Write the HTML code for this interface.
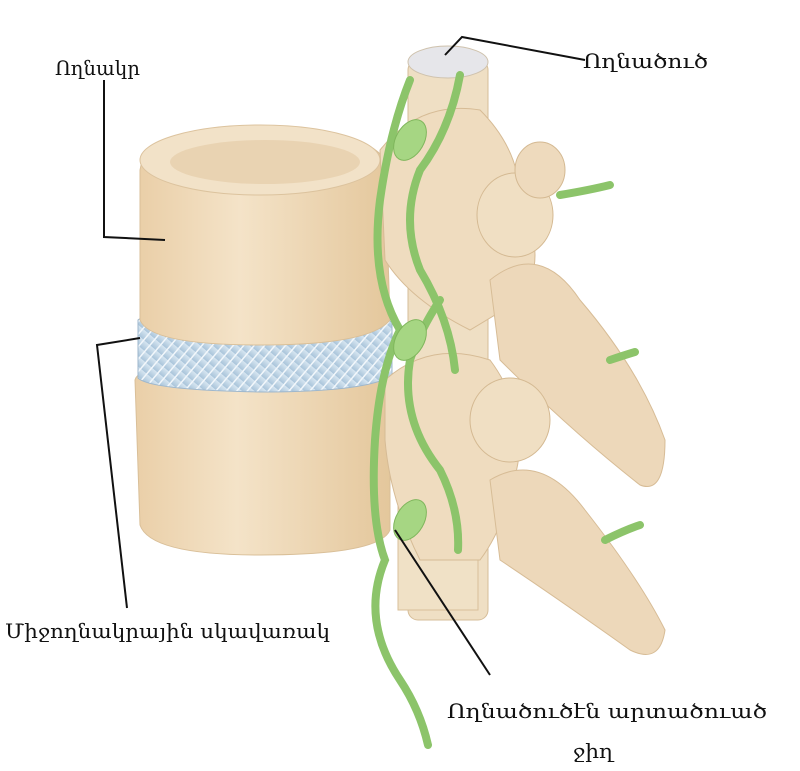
<!DOCTYPE html>
<html><head><meta charset="utf-8"><style>
html,body{margin:0;padding:0;background:#fff;}
svg{display:block;}
text{font-family:"DejaVu Serif","Liberation Serif",serif;font-size:20px;fill:#111;}
</style></head><body>
<svg width="800" height="771" viewBox="0 0 800 771" xmlns="http://www.w3.org/2000/svg">
<defs>
<linearGradient id="bone" x1="0" y1="0" x2="1" y2="0">
<stop offset="0" stop-color="#eacfa8"/><stop offset="0.4" stop-color="#f4e3c8"/><stop offset="1" stop-color="#e4c79c"/>
</linearGradient>
<linearGradient id="disc" x1="0" y1="0" x2="0" y2="1">
<stop offset="0" stop-color="#d7e6f1"/><stop offset="1" stop-color="#a9c4da"/>
</linearGradient>
<pattern id="hatch" width="8" height="8" patternUnits="userSpaceOnUse" patternTransform="rotate(40)">
<rect width="8" height="8" fill="url(#disc)"/>
<line x1="0" y1="0" x2="0" y2="8" stroke="#f2f7fb" stroke-width="3"/>
</pattern>
</defs>
<rect x="408" y="60" width="80" height="560" rx="10" fill="#efdfc4" stroke="#d6bd98"/>
<rect x="398" y="480" width="80" height="130" fill="#f0e1c6" stroke="#d8bf9a"/>
<ellipse cx="448" cy="62" rx="40" ry="16" fill="#e6e6ea" stroke="#cfc2ad"/>
<path d="M135,380 Q140,360 250,360 Q370,360 390,380 L390,530 Q380,555 260,555 Q150,555 140,525 Z" fill="url(#bone)" stroke="#d9bf98"/>
<path d="M138,320 Q150,310 260,312 Q370,312 392,322 L392,375 Q370,392 260,392 Q150,390 138,378 Z" fill="url(#hatch)" stroke="#9fb7cc"/>
<path d="M140,170 Q145,130 255,128 Q365,128 385,160 L390,320 Q370,345 260,345 Q150,345 140,320 Z" fill="url(#bone)" stroke="#d9bf98"/>
<ellipse cx="260" cy="160" rx="120" ry="35" fill="#f2e2c8" stroke="#dcc39e"/>
<ellipse cx="265" cy="162" rx="95" ry="22" fill="#e9d3b2"/>
<path d="M380,150 Q420,100 480,110 Q520,150 520,200 Q550,260 520,300 L470,330 Q410,300 385,260 Z" fill="#efdcbf" stroke="#d6bb95"/>
<path d="M490,280 Q540,240 580,300 Q640,370 665,440 Q665,495 640,485 Q570,430 500,360 Z" fill="#edd8ba" stroke="#d7bc96"/>
<ellipse cx="515" cy="215" rx="38" ry="42" fill="#f0dfc3" stroke="#d4b992"/>
<ellipse cx="540" cy="170" rx="25" ry="28" fill="#eedabd" stroke="#d4b992"/>
<path d="M385,380 Q430,340 490,360 Q520,400 520,450 Q510,520 480,560 L420,560 Q390,500 385,440 Z" fill="#efdcbf" stroke="#d6bb95"/>
<path d="M490,480 Q540,450 585,510 Q640,580 665,630 Q660,665 630,650 Q560,600 500,560 Z" fill="#edd8ba" stroke="#d7bc96"/>
<ellipse cx="510" cy="420" rx="40" ry="42" fill="#f0dfc3" stroke="#d4b992"/>
<g fill="none" stroke="#8cc46a" stroke-width="8" stroke-linecap="round">
<path d="M410,80 Q390,130 380,200 Q370,280 400,330 Q380,370 375,440 Q370,520 385,560 Q360,620 400,680 Q420,710 428,745"/>
<path d="M460,75 Q450,130 420,170 Q400,220 420,270 Q450,320 455,370"/>
<path d="M440,300 Q420,330 410,360 Q400,420 440,470 Q460,510 458,550"/>
<path d="M560,195 Q590,190 610,185"/>
<path d="M610,360 Q625,355 635,352"/>
<path d="M605,540 Q625,530 640,525"/>
</g>
<g fill="#a6d683" stroke="#7fb65c">
<ellipse cx="410" cy="140" rx="14" ry="22" transform="rotate(30 410 140)"/>
<ellipse cx="410" cy="340" rx="14" ry="22" transform="rotate(30 410 340)"/>
<ellipse cx="410" cy="520" rx="14" ry="22" transform="rotate(30 410 520)"/>
</g>
<g stroke="#111" stroke-width="2" fill="none">
<polyline points="104,80 104,237 165,240"/>
<polyline points="140,338 97,345 127,608"/>
<polyline points="445,55 462,37 585,60"/>
<line x1="395" y1="530" x2="490" y2="675"/>
</g>
<text x="55" y="75" textLength="85" lengthAdjust="spacingAndGlyphs">Ողնակր</text>
<text x="583" y="68" textLength="125" lengthAdjust="spacingAndGlyphs">Ողնածուծ</text>
<text x="5" y="638" textLength="325" lengthAdjust="spacingAndGlyphs">Միջողնակրային սկավառակ</text>
<text x="447" y="718" textLength="320" lengthAdjust="spacingAndGlyphs">Ողնածուծէն արտածուած</text>
<text x="573" y="758" textLength="40" lengthAdjust="spacingAndGlyphs">ջիղ</text>
</svg>
</body></html>
